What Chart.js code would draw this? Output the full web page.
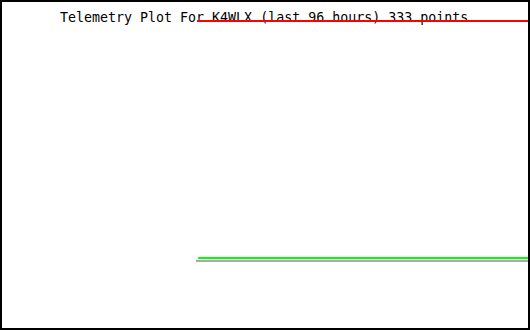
<!DOCTYPE html>
<html>
<head>
<meta charset="utf-8">
<script src="https://cdn.jsdelivr.net/npm/chart.js@4/dist/chart.umd.min.js"></script>
<style>
    body { margin: 0; background: #fff; }
    #moldura { position: relative; width: 530px; height: 330px; box-sizing: border-box; border: 2px solid #000; background: #fff; }
    #titulo { position: absolute; left: 58px; top: 9px; font: 13.3px "DejaVu Sans Mono", monospace; line-height: 14px; color: #000; white-space: pre; }
    #grafico { position: absolute; left: 0; top: 0; }
</style>
</head>
<body>
<div id="moldura">
    <div id="titulo">Telemetry Plot For K4WLX (last 96 hours) 333 points</div>
    <canvas id="grafico" width="526" height="326"></canvas>
</div>
<script>
// horas relativas ao fim da janela de 96 horas
const horas_vermelho = [-60.4, -45, -30, -15, 0];
const valores_vermelho = [100, 100, 100, 100, 100];

const horas_verde = [-60.2, -45, -30, -15, 0];
const valores_verde = [17.7, 17.7, 17.7, 17.7, 17.7];

const horas_cinza = [-60.6, -45, -30, -15, 0];
const valores_cinza = [16.7, 16.7, 16.7, 16.7, 16.7];

const grafico = document.getElementById('grafico');

function pontos(horas, valores) {
    return horas.map((h, i) => ({ x: h, y: valores[i] }));
}

new Chart(grafico, {
    type: 'line',
    data: {
        datasets: [{
            data: pontos(horas_cinza, valores_cinza),
            borderColor: '#a9a9a9',
            borderWidth: 2,
            pointRadius: 0,
            clip: false
        }, {
            data: pontos(horas_verde, valores_verde),
            borderColor: '#00ff00',
            borderWidth: 2,
            pointRadius: 0,
            clip: false
        }, {
            data: pontos(horas_vermelho, valores_vermelho),
            borderColor: '#ff0000',
            borderWidth: 2,
            pointRadius: 0,
            clip: false
        }]
    },
    options: {
        responsive: false,
        animation: false,
        layout: {
            padding: { top: 19, bottom: 19, left: 0, right: 0 }
        },
        plugins: {
            legend: { display: false },
            tooltip: { enabled: false }
        },
        scales: {
            x: { type: 'linear', min: -96, max: 0, display: false },
            y: { min: 0, max: 100, display: false }
        }
    }
});
</script>
</body>
</html>
